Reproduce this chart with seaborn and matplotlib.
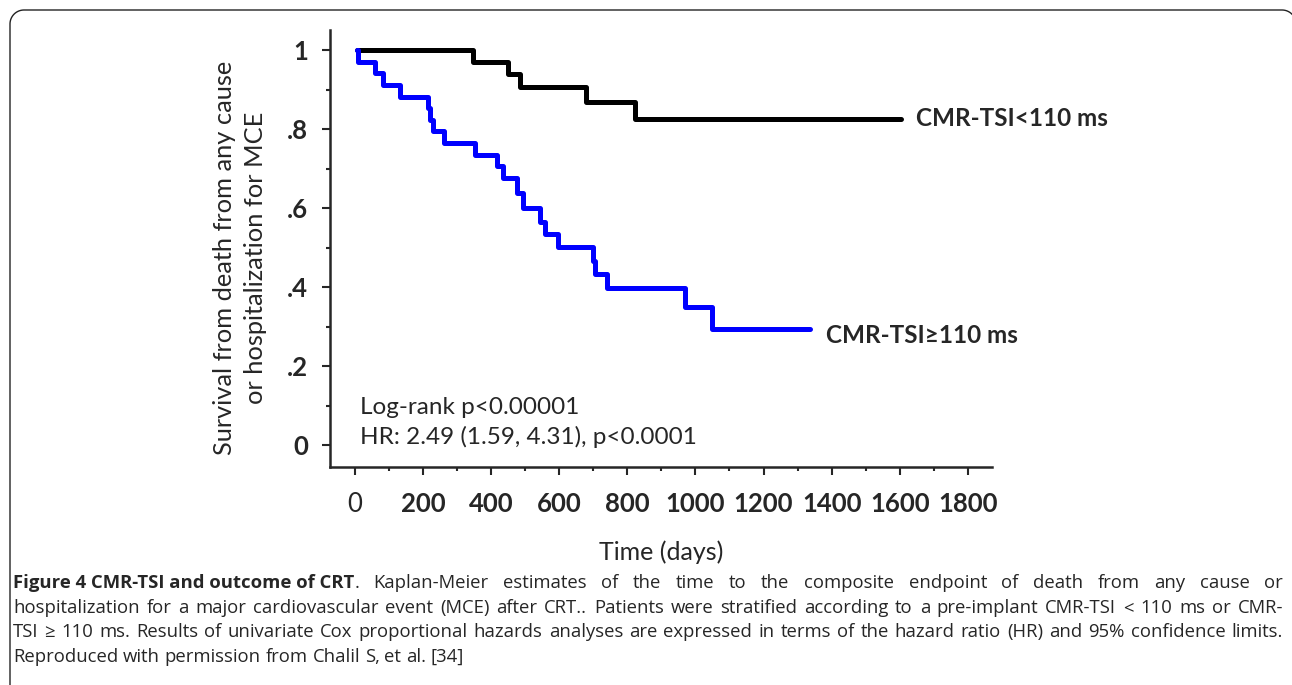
import matplotlib
matplotlib.use("Agg")
import matplotlib.pyplot as plt
import numpy as np
import pandas as pd
import seaborn as sns
from matplotlib.lines import Line2D

# %% Data
low_days = [5, 348, 450, 485, 680, 822, 1605]
low_surv = [1.0, 0.970, 0.940, 0.907, 0.868, 0.826, 0.826]

high_days = [5, 10, 59, 83, 132, 215, 222, 228, 261, 352, 416, 434, 475, 494,
             543, 558, 597, 700, 705, 739, 969, 1050, 1336]
high_surv = [1.0, 0.971, 0.941, 0.912, 0.882, 0.853, 0.824, 0.794, 0.765, 0.735,
             0.706, 0.676, 0.637, 0.600, 0.565, 0.535, 0.502, 0.467, 0.433,
             0.397, 0.350, 0.295, 0.295]

groups = ["CMR-TSI<110 ms", "CMR-TSI\u2265110 ms"]
x_ticks = [0, 200, 400, 600, 800, 1000, 1200, 1400, 1600, 1800]
y_ticks = [0, 0.2, 0.4, 0.6, 0.8, 1.0]
y_tick_labels = ["0", ".2", ".4", ".6", ".8", "1"]

df = pd.concat([
    pd.DataFrame({"Days": low_days, "Survival": low_surv, "Group": groups[0]}),
    pd.DataFrame({"Days": high_days, "Survival": high_surv, "Group": groups[1]}),
])

# %% Plot
sns.set_style("ticks")
plt.rcParams["font.family"] = ["Lato", "DejaVu Sans"]

W, H = 1292, 685
fig = plt.figure(figsize=(W / 100, H / 100), dpi=100)
ax = fig.add_axes([330 / W, 1 - 467 / H, (992 - 330) / W, (467 - 30) / H])

sns.lineplot(
    data=df, x="Days", y="Survival", hue="Group",
    palette={groups[0]: "black", groups[1]: "#0000ff"},
    drawstyle="steps-post", estimator=None, lw=3.6, legend=False, ax=ax,
)

ax.set_xlim(-73, 1871)
ax.set_ylim(-0.0557, 1.051)
sns.despine(ax=ax)
for s in ["left", "bottom"]:
    ax.spines[s].set_linewidth(1.8)

ax.set_xticks(x_ticks)
ax.set_xticks(np.arange(100, 1800, 200), minor=True)
ax.set_xticklabels([str(t) for t in x_ticks], fontsize=18.5, fontweight="bold")
ax.get_xticklabels()[0].set_fontweight("normal")
ax.set_yticks(y_ticks)
ax.set_yticks([0.1, 0.3, 0.5, 0.7, 0.9], minor=True)
ax.set_yticklabels(y_tick_labels, fontsize=18.5, fontweight="bold")
ax.tick_params(axis="both", which="major", length=6, width=1.5, direction="out")
ax.tick_params(axis="both", which="minor", length=3, width=1.5, direction="out")
ax.tick_params(axis="x", which="major", pad=12)
ax.tick_params(axis="y", which="major", pad=10)

ax.set_xlabel("Time (days)", fontsize=18, labelpad=17)
ax.set_ylabel("")
fig.text(240 / W, 1 - 258 / H,
         "Survival from death from any cause\nor hospitalization for MCE",
         fontsize=18.3, rotation=90, ha="center", va="center",
         multialignment="center", linespacing=1.45)

# curve labels
ax.text(1648, 0.826, groups[0], fontsize=17.5, fontweight="bold", va="center")
ax.text(1383, 0.278, groups[1], fontsize=17.5, fontweight="bold", va="center")

ax.text(15, 0.095, "Log-rank p<0.00001", fontsize=17.5, va="center")
ax.text(15, 0.02, "HR: 2.49 (1.59, 4.31), p<0.0001", fontsize=17.5, va="center")

# page frame with rounded top corners (pixel geometry)
r = 14
a1 = np.linspace(np.pi, np.pi / 2, 20)
a2 = np.linspace(np.pi / 2, 0, 20)
px = np.concatenate([[10], 10 + r + r * np.cos(a1), 1282 + r * np.cos(a2)])
py = np.concatenate([[H + 5], 10 + r - r * np.sin(a1), 10 + r - r * np.sin(a2)])
fig.add_artist(Line2D(px / W, 1 - py / H, color="#222222", lw=1.0,
                      transform=fig.transFigure))

# caption, justified word by word
cap_font = ["Open Sans", "DejaVu Sans"]
cap_size = 13.3
x_left, x_right = 13, 1283
cap_lines = [
    ([("Figure 4 CMR-TSI and outcome of CRT", "bold")]
     + [(w, "normal") for w in (". Kaplan-Meier estimates of the time to the composite "
                                "endpoint of death from any cause or").split(" ")], True),
    ([(w, "normal") for w in ("hospitalization for a major cardiovascular event (MCE) "
                              "after CRT.. Patients were stratified according to a "
                              "pre-implant CMR-TSI < 110 ms or CMR-").split(" ")], True),
    ([(w, "normal") for w in ("TSI \u2265 110 ms. Results of univariate Cox proportional "
                              "hazards analyses are expressed in terms of the hazard "
                              "ratio (HR) and 95% confidence limits.").split(" ")], True),
    ([(w, "normal") for w in ("Reproduced with permission from Chalil S, et "
                              "al. [34]").split(" ")], False),
]
renderer = fig.canvas.get_renderer()
t_sp = fig.text(0, 0, "a a", fontsize=cap_size, family=cap_font)
t_nsp = fig.text(0, 0, "aa", fontsize=cap_size, family=cap_font)
nat_sp = t_sp.get_window_extent(renderer).width - t_nsp.get_window_extent(renderer).width
t_sp.remove()
t_nsp.remove()
for i, (words, justify) in enumerate(cap_lines):
    y = 1 - (583 + 24.7 * i) / H
    arts = [fig.text(0, y, w, fontsize=cap_size, fontweight=wt, family=cap_font,
                     va="center") for w, wt in words]
    widths = [a.get_window_extent(renderer).width for a in arts]
    # the bold heading and the full stop after it are glued (no space)
    gaps = [0.0 if (i == 0 and k == 0) else 1.0 for k in range(len(words) - 1)]
    sp = (x_right - x_left - sum(widths)) / sum(gaps) if justify else nat_sp
    x = x_left
    for k, a in enumerate(arts):
        a.set_x(x / W)
        x += widths[k]
        if k < len(gaps):
            x += sp * gaps[k]

plt.savefig("out.png", dpi=100, facecolor="white")
